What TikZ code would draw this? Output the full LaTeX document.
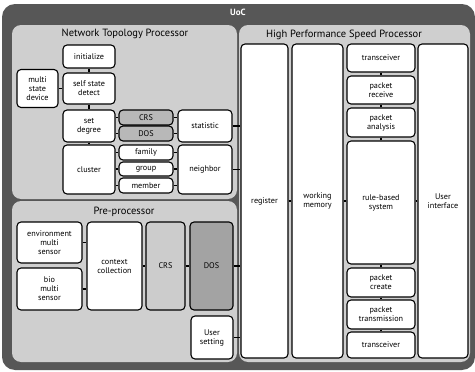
\documentclass[tikz,border=0pt]{standalone}
\usepackage{fontspec}
\setmainfont{PT Sans}
\definecolor{outergray}{gray}{0.34}
\definecolor{panelgray}{gray}{0.81}
\definecolor{midgray}{gray}{0.72}
\definecolor{lightgray}{gray}{0.80}
\definecolor{darkgray}{gray}{0.64}
\tikzset{
  blk/.style={draw, line width=1.1pt, rounded corners=4pt, fill=white, align=center,
    inner sep=0pt, font=\fontsize{8.2}{9}\selectfont},
  link/.style={line width=1.8pt},
  panel/.style={fill=panelgray, rounded corners=9pt},
  title/.style={font=\fontsize{10.5}{11}\selectfont},
}
\begin{document}
\begin{tikzpicture}[x=1pt, y=-1pt]
\useasboundingbox (0,0) rectangle (475,372);
% frame and panels
\fill[outergray, rounded corners=13pt] (2,4) rectangle (475,370);
\fill[panel] (12,25) rectangle (237,199);
\fill[panel] (12,201) rectangle (237,362);
\fill[panel] (239,25) rectangle (470,362);
\node[title, text=white, font=\bfseries\fontsize{9}{10}\selectfont] (uoc) at (238,12) {UoC};
\node[title] (ntp) at (125,34) {Network Topology Processor};
\node[title] (pre) at (124,212) {Pre-processor};
\node[title] (hpsp) at (344,35) {High Performance Speed Processor};

% network topology processor
\node[blk, minimum width=52pt, minimum height=23pt] (init) at (89,56.5) {initialize};
\node[blk, minimum width=52pt, minimum height=31pt] (selfdet) at (89,88.5) {self state\\detect};
\node[blk, minimum width=41pt, minimum height=38pt] (msd) at (37.5,88.5) {multi\\state\\device};
\node[blk, minimum width=52pt, minimum height=32pt] (setdeg) at (89,126) {set\\degree};
\node[blk, fill=midgray, minimum width=54pt, minimum height=15pt] (crsa) at (146,117.5) {CRS};
\node[blk, fill=midgray, minimum width=54pt, minimum height=15pt] (dosa) at (146,133.5) {DOS};
\node[blk, minimum width=54pt, minimum height=32pt] (stat) at (205,126) {statistic};
\node[blk, minimum width=52pt, minimum height=49pt] (cluster) at (89,169.5) {cluster};
\node[blk, minimum width=54pt, minimum height=15pt] (family) at (146,152.5) {family};
\node[blk, minimum width=54pt, minimum height=14pt] (group) at (146,169) {group};
\node[blk, minimum width=54pt, minimum height=15pt] (member) at (146,185.5) {member};
\node[blk, minimum width=54pt, minimum height=49pt] (neighbor) at (205,169.5) {neighbor};

% pre-processor
\node[blk, minimum width=65pt, minimum height=41pt] (env) at (49.5,242.5) {environment\\multi\\sensor};
\node[blk, minimum width=65pt, minimum height=42pt] (bio) at (49.5,289) {bio\\multi\\sensor};
\node[blk, minimum width=55pt, minimum height=88pt] (ctx) at (114.5,266) {context\\collection};
\node[blk, fill=lightgray, minimum width=39pt, minimum height=88pt] (crsb) at (165.5,266) {CRS};
\node[blk, fill=darkgray, minimum width=43pt, minimum height=88pt] (dosb) at (211.5,266) {DOS};
\node[blk, minimum width=42pt, minimum height=43pt] (uset) at (212,337.5) {User\\setting};

% high performance speed processor
\node[blk, minimum width=47pt, minimum height=314pt] (reg) at (264.5,201) {register};
\node[blk, minimum width=51pt, minimum height=314pt] (wm) at (317.5,201) {working\\memory};
\node[blk, minimum width=50pt, minimum height=314pt] (ui) at (443,201) {User\\interface};
\foreach \name/\yc/\h/\txt in {
    tra/58/28/transceiver,
    prx/90/28/{packet\\receive},
    pan/122.5/29/{packet\\analysis},
    rbs/202.5/123/{rule-based\\system},
    pcr/282.5/29/{packet\\create},
    ptx/314.5/29/{packet\\transmission},
    trb/345/26/transceiver} {
  \node[blk, minimum width=68pt, minimum height=\h pt] (\name) at (381,\yc) {\txt};
}

% links
\foreach \a/\b in {init/selfdet, selfdet/setdeg, setdeg/cluster,
    tra/prx, prx/pan, pan/rbs, rbs/pcr, pcr/ptx, ptx/trb} {
  \draw[link] (\a.south) -- (\a.south |- \b.north);
}
\foreach \a/\b in {msd/selfdet, crsa/stat, dosa/stat, family/neighbor, group/neighbor,
    member/neighbor, env/ctx, bio/ctx, ctx/crsb, crsb/dosb, dosb/reg, uset/reg,
    stat/reg, neighbor/reg, reg/wm, wm/rbs} {
  \draw[link] (\a.east) -- (\a.east -| \b.west);
}
\foreach \a/\b in {setdeg/crsa, setdeg/dosa, cluster/family, cluster/group, cluster/member, rbs/ui} {
  \draw[link] (\b.west -| \a.east) -- (\b.west);
}
\end{tikzpicture}
\end{document}
